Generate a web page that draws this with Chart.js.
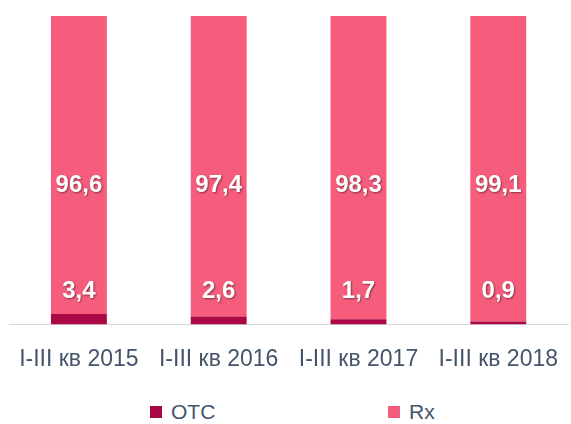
<!DOCTYPE html>
<html>
<head>
<meta charset="utf-8">
<script src="https://cdn.jsdelivr.net/npm/chart.js@4/dist/chart.umd.min.js"></script>
<style>
  body { margin: 0; background: #fff; }
  #wrap { position: relative; width: 571px; height: 424px; }
  #legend { position: absolute; top: 400px; left: 0; width: 571px; height: 26px;
    font-family: "Liberation Sans", sans-serif; font-size: 21px; color: #44546A; }
  .item { position: absolute; top: 0; display: flex; align-items: center; }
  .box { width: 12px; height: 12px; margin-right: 9px; }
</style>
</head>
<body>
<div id="wrap">
  <canvas id="chart" width="571" height="386"></canvas>
  <div id="legend"></div>
</div>
<script>
const categories = ['I-III кв 2015', 'I-III кв 2016', 'I-III кв 2017', 'I-III кв 2018'];
const otcValues = [3.4, 2.6, 1.7, 0.9];
const rxValues = [96.6, 97.4, 98.3, 99.1];
const seriesNames = ['OTC', 'Rx'];
const colors = ['#AD0846', '#F65D7C'];

const legendPos = [150, 388];
const legend = document.getElementById('legend');
seriesNames.forEach((name, i) => {
  const item = document.createElement('div');
  item.className = 'item';
  item.style.left = legendPos[i] + 'px';
  item.innerHTML = '<div class="box" style="background:' + colors[i] + '"></div><span>' + name + '</span>';
  legend.appendChild(item);
});

const fmt = (v) => v.toFixed(1).replace('.', ',');

// labels: Rx in the middle zone, OTC just above its segment
const labelPlugin = {
  id: 'labels',
  afterDatasetsDraw(chart) {
    const ctx = chart.ctx;
    const yScale = chart.scales.y;
    const meta = chart.getDatasetMeta(0);
    ctx.save();
    ctx.font = 'bold 24px "Liberation Sans", sans-serif';
    ctx.textAlign = 'center';
    ctx.textBaseline = 'middle';
    ctx.fillStyle = '#fff';
    ctx.shadowColor = 'rgba(0,0,0,0.45)';
    ctx.shadowOffsetX = 1;
    ctx.shadowOffsetY = 1;
    ctx.shadowBlur = 2;
    meta.data.forEach((bar, i) => {
      ctx.fillText(fmt(rxValues[i]), bar.x, yScale.getPixelForValue(45));
      ctx.fillText(fmt(otcValues[i]), bar.x, yScale.getPixelForValue(10.7));
    });
    ctx.restore();
  }
};

new Chart(document.getElementById('chart'), {
  type: 'bar',
  data: {
    labels: categories,
    datasets: [
      { label: seriesNames[0], data: otcValues, backgroundColor: colors[0] },
      { label: seriesNames[1], data: rxValues, backgroundColor: colors[1] }
    ]
  },
  options: {
    responsive: false,
    animation: false,
    layout: { padding: { left: 9, right: 0, top: 16, bottom: 0 } },
    datasets: { bar: { categoryPercentage: 0.4, barPercentage: 1.0 } },
    plugins: { legend: { display: false }, tooltip: { enabled: false } },
    scales: {
      x: {
        stacked: true,
        grid: { display: false },
        border: { color: '#D9D9D9', width: 1 },
        ticks: { color: '#44546A', font: { family: '"Liberation Sans", sans-serif', size: 23 }, padding: 13, maxRotation: 0 }
      },
      y: { stacked: true, display: false, min: 0, max: 100 }
    }
  },
  plugins: [labelPlugin]
});
</script>
</body>
</html>
